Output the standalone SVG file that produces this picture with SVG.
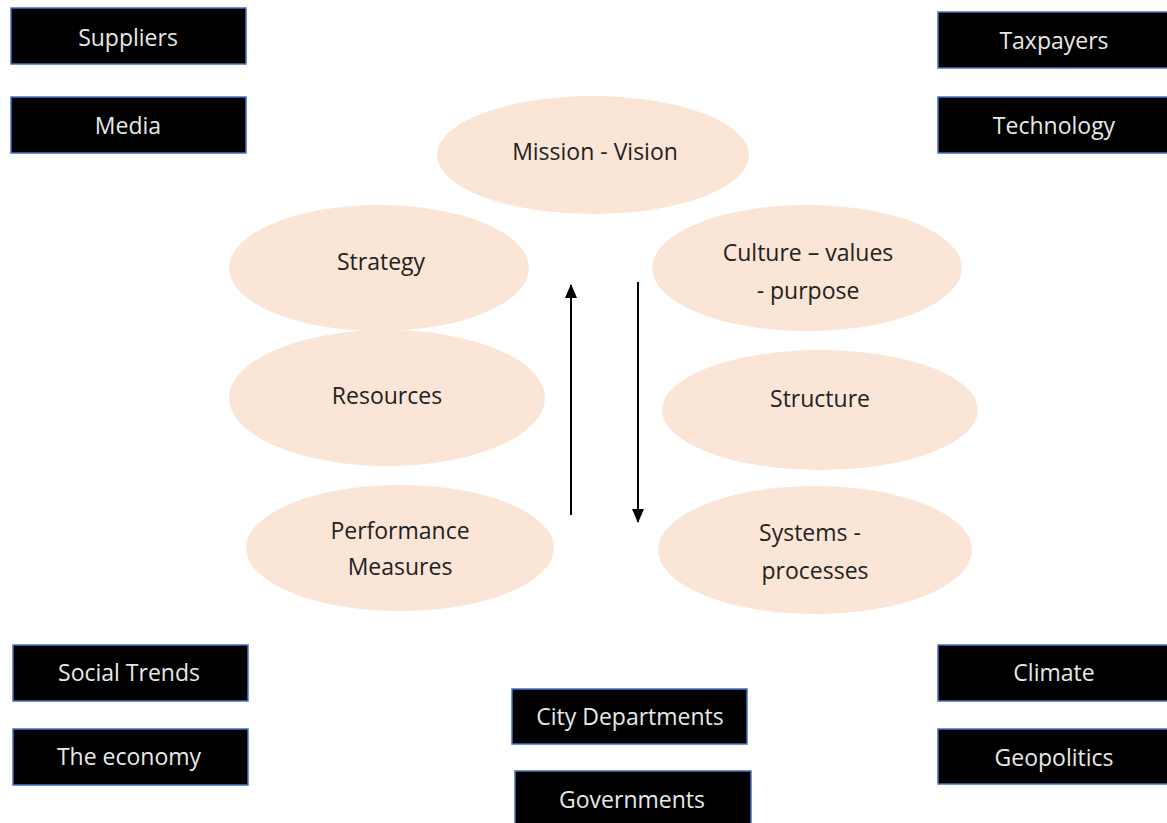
<svg xmlns="http://www.w3.org/2000/svg" width="1167" height="823" viewBox="0 0 1167 823">
  <style>
    .box { fill: #000000; stroke: #4472c4; stroke-width: 1.5; }
    .boxtext { fill: #e8e8e8; font-family: "Open Sans", "Noto Sans", sans-serif; font-size: 23px; text-anchor: middle; dominant-baseline: central; }
    .oval { fill: #fbe5d6; }
    .ovaltext { fill: #222222; font-family: "Open Sans", "Noto Sans", sans-serif; font-size: 23px; text-anchor: middle; dominant-baseline: central; }
    .flow { stroke: #000000; stroke-width: 2; fill: none; }
  </style>
  <defs>
    <marker id="head" viewBox="0 0 14 12" refX="13" refY="6" markerWidth="14" markerHeight="12" orient="auto" markerUnits="userSpaceOnUse">
      <path d="M0,0 L14,6 L0,12 z" fill="#000000"/>
    </marker>
  </defs>
  <rect width="1167" height="823" fill="#ffffff"/>

  <!-- external factors -->
  <g id="suppliers"><rect class="box" x="11" y="8" width="235" height="56"/><text class="boxtext" x="128" y="37">Suppliers</text></g>
  <g id="media"><rect class="box" x="11" y="97" width="235" height="56"/><text class="boxtext" x="128" y="125">Media</text></g>
  <g id="taxpayers"><rect class="box" x="938" y="12" width="235" height="56"/><text class="boxtext" x="1054" y="40">Taxpayers</text></g>
  <g id="technology"><rect class="box" x="938" y="97" width="235" height="56"/><text class="boxtext" x="1054" y="125">Technology</text></g>
  <g id="social-trends"><rect class="box" x="13" y="645" width="235" height="56"/><text class="boxtext" x="129" y="672">Social Trends</text></g>
  <g id="economy"><rect class="box" x="13" y="729" width="235" height="56"/><text class="boxtext" x="129" y="756">The economy</text></g>
  <g id="city-departments"><rect class="box" x="512" y="689" width="235" height="55"/><text class="boxtext" x="630" y="716">City Departments</text></g>
  <g id="governments"><rect class="box" x="515" y="771" width="236" height="60"/><text class="boxtext" x="632" y="799">Governments</text></g>
  <g id="climate"><rect class="box" x="938" y="645" width="235" height="56"/><text class="boxtext" x="1054" y="672">Climate</text></g>
  <g id="geopolitics"><rect class="box" x="938" y="729" width="235" height="55"/><text class="boxtext" x="1054" y="757">Geopolitics</text></g>

  <!-- organisation elements -->
  <g id="mission-vision"><ellipse class="oval" cx="593" cy="155" rx="156" ry="59"/><text class="ovaltext" x="595" y="151">Mission - Vision</text></g>
  <g id="strategy"><ellipse class="oval" cx="379" cy="268" rx="150" ry="63"/><text class="ovaltext" x="381" y="261">Strategy</text></g>
  <g id="culture"><ellipse class="oval" cx="807" cy="268" rx="155" ry="63"/><text class="ovaltext" x="808" y="252">Culture – values</text><text class="ovaltext" x="808" y="290">- purpose</text></g>
  <g id="resources"><ellipse class="oval" cx="387" cy="398" rx="158" ry="68"/><text class="ovaltext" x="387" y="395">Resources</text></g>
  <g id="structure"><ellipse class="oval" cx="820" cy="410" rx="158" ry="60"/><text class="ovaltext" x="820" y="398">Structure</text></g>
  <g id="performance-measures"><ellipse class="oval" cx="400" cy="548" rx="154" ry="63"/><text class="ovaltext" x="400" y="530">Performance</text><text class="ovaltext" x="400" y="566">Measures</text></g>
  <g id="systems-processes"><ellipse class="oval" cx="815" cy="550" rx="157" ry="64"/><text class="ovaltext" x="810" y="532">Systems -</text><text class="ovaltext" x="815" y="570">processes</text></g>

  <!-- connectors -->
  <g id="connectors">
    <line class="flow" x1="571" y1="515" x2="571" y2="285" marker-end="url(#head)"/>
    <line class="flow" x1="638" y1="282" x2="638" y2="522" marker-end="url(#head)"/>
  </g>
</svg>
